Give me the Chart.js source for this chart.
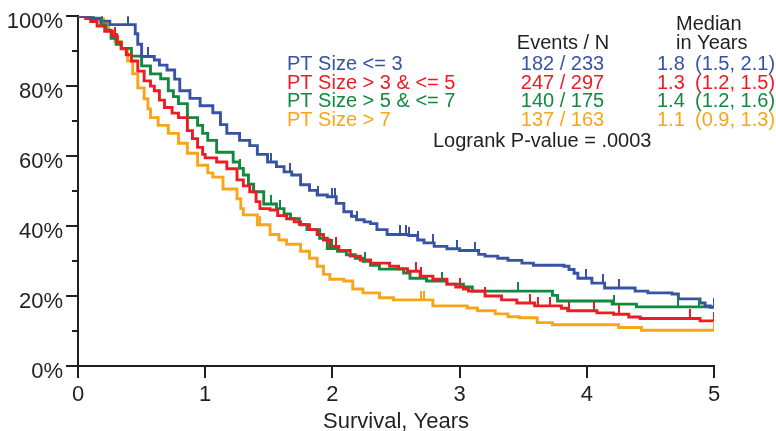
<!DOCTYPE html>
<html>
<head>
<meta charset="utf-8">
<script src="https://cdn.jsdelivr.net/npm/chart.js@4.4.1/dist/chart.umd.min.js"></script>
<style>
  html, body { margin: 0; padding: 0; background: #fff; }
  #wrap { width: 776px; height: 431px; }
</style>
</head>
<body>
<div id="wrap"><canvas id="km" width="776" height="431"></canvas></div>
<script>
// ---- data (years, survival %) ----
const groups = ['PT Size <= 3', 'PT Size > 3 & <= 5', 'PT Size > 5 & <= 7', 'PT Size > 7'];
const colors = ['#3953a4', '#ed1c24', '#108a3e', '#f9a51a'];
const eventsN = ['182 / 233', '247 / 297', '140 / 175', '137 / 163'];
const medians = ['1.8', '1.3', '1.4', '1.1'];
const medianCI = ['(1.5, 2.1)', '(1.2, 1.5)', '(1.2, 1.6)', '(0.9, 1.3)'];
const pValueText = 'Logrank P-value = .0003';

const le3Time = [0, 0.1, 0.18, 0.25, 0.45, 0.47, 0.5, 0.6, 0.64, 0.7, 0.76, 0.8, 0.88, 0.96, 1.06, 1.12, 1.17, 1.27, 1.35, 1.41, 1.49, 1.56, 1.62, 1.68, 1.75, 1.82, 1.88, 1.96, 2.03, 2.09, 2.15, 2.19, 2.25, 2.3, 2.35, 2.43, 2.6, 2.67, 2.72, 2.8, 2.9, 3.0, 3.15, 3.2, 3.3, 3.38, 3.49, 3.58, 3.82, 3.86, 3.9, 3.93, 4.04, 4.14, 4.38, 4.48, 4.67, 4.72, 4.89, 4.93, 4.97, 5.0];
const le3Surv = [100, 99.4, 98.6, 97.6, 95, 92, 88.5, 87.5, 86, 84.6, 82, 78.7, 76.5, 74.4, 72.4, 69, 66.5, 64.5, 63, 60.5, 58.3, 57, 55.5, 54.6, 51.8, 50.2, 48.9, 48.4, 46.5, 44.1, 42.8, 41.8, 41.2, 40.7, 39, 37.6, 37.3, 36, 35.2, 34.2, 33.5, 33, 31.9, 31.4, 30.8, 30.2, 29.4, 28.8, 28.5, 27.6, 26.5, 25.1, 23.7, 22.3, 21.4, 20.9, 20.6, 19.2, 18, 17.2, 16.8, 16.8];
const le3Cens = [0.39, 0.55, 0.88, 1.52, 1.67, 1.89, 2.0, 2.02, 2.19, 2.53, 2.58, 2.6, 2.67, 2.79, 2.98, 3.12, 3.99, 4.13, 4.25, 5.0];

const to5Time = [0, 0.06, 0.1, 0.15, 0.21, 0.27, 0.31, 0.34, 0.38, 0.42, 0.47, 0.52, 0.57, 0.6, 0.64, 0.68, 0.74, 0.79, 0.86, 0.9, 0.94, 0.98, 1.0, 1.09, 1.17, 1.25, 1.3, 1.35, 1.4, 1.43, 1.51, 1.57, 1.64, 1.7, 1.75, 1.82, 1.88, 1.93, 1.98, 2.05, 2.14, 2.22, 2.3, 2.45, 2.52, 2.59, 2.69, 2.79, 2.9, 2.97, 3.03, 3.07, 3.2, 3.33, 3.45, 3.59, 3.8, 3.85, 4.08, 4.21, 4.33, 4.42, 4.89, 5.0];
const to5Surv = [100, 99.3, 98.5, 97.2, 95.7, 94.2, 92.5, 90.8, 89, 87.2, 84.3, 81.5, 80, 78.7, 76, 73.9, 72.3, 71, 67.3, 65, 62.5, 60.5, 59.5, 58.3, 56.4, 53.2, 51.5, 49.8, 47, 45, 44.6, 43, 42.1, 41.2, 40.4, 39, 37.6, 36, 34.2, 33, 31.4, 30.3, 29.4, 28.5, 27.8, 27.1, 25.7, 24.8, 23.4, 22.6, 22, 21.4, 20, 18.9, 18, 17.2, 16.5, 15.8, 15.2, 14.8, 14, 13.6, 12.9, 12.9];
const to5Cens = [0.29, 0.31, 2.03, 2.66, 2.7, 3.0, 3.2, 3.55, 3.62, 3.71, 3.86, 4.06, 4.25, 4.81, 5.0];

const to7Time = [0, 0.12, 0.18, 0.22, 0.26, 0.3, 0.34, 0.42, 0.5, 0.57, 0.65, 0.71, 0.75, 0.79, 0.86, 0.94, 0.98, 1.02, 1.09, 1.22, 1.27, 1.3, 1.34, 1.38, 1.46, 1.56, 1.62, 1.67, 1.74, 1.8, 1.9, 1.96, 2.04, 2.11, 2.18, 2.24, 2.3, 2.37, 2.56, 2.61, 2.74, 2.9, 3.03, 3.1, 3.73, 3.77, 4.2, 4.39, 5.0];
const to7Surv = [100, 99.3, 97.6, 96, 93.7, 92, 90.8, 88.6, 85.8, 83.5, 82.1, 78.7, 77, 75, 71, 68.8, 66.5, 64.5, 61.1, 58.3, 56.5, 54.6, 52, 49.8, 46.3, 45, 43.5, 42.1, 40.5, 39, 36.5, 33.6, 32.8, 31.8, 30.8, 29.9, 28.8, 27.7, 26.6, 25.1, 24.3, 23.4, 22.6, 21.4, 20.2, 18.6, 17.7, 16.9, 16.9];
const to7Cens = [0.19, 1.27, 1.52, 1.59, 2.0, 2.26, 2.86, 3.46, 4.21, 4.72, 4.88, 5.0];

const gt7Time = [0, 0.12, 0.2, 0.24, 0.27, 0.29, 0.34, 0.39, 0.43, 0.47, 0.52, 0.55, 0.57, 0.63, 0.71, 0.79, 0.86, 0.94, 1.02, 1.06, 1.14, 1.25, 1.28, 1.3, 1.41, 1.51, 1.58, 1.64, 1.75, 1.82, 1.88, 1.93, 1.98, 2.09, 2.16, 2.24, 2.37, 2.48, 2.79, 3.06, 3.14, 3.28, 3.38, 3.47, 3.61, 3.73, 4.25, 4.43, 5.0];
const gt7Surv = [100, 99.3, 98, 95.7, 94, 92.8, 90.6, 87.2, 83.5, 79.5, 76.4, 73.5, 71, 68.8, 66.5, 63.7, 60.8, 57.4, 55.2, 54, 50.6, 47.8, 45, 43.2, 40.4, 37.6, 36, 34.8, 32.8, 30.8, 28.5, 26.2, 24.8, 24.3, 22, 20.9, 19.5, 18.9, 17.2, 16.6, 15.8, 14.9, 14.1, 13.8, 12.4, 11.8, 11, 10.2, 10.2];
const gt7Cens = [0.63, 1.43, 2.7, 2.72, 5.0];

const xTickValues = [0, 1, 2, 3, 4, 5];
const yMinorTicks = [10, 30, 50, 70, 90];

const times = [le3Time, to5Time, to7Time, gt7Time];
const survs = [le3Surv, to5Surv, to7Surv, gt7Surv];
const cens = [le3Cens, to5Cens, to7Cens, gt7Cens];

const INK = '#231f20';
const FONT = "'Liberation Sans', Arial, Helvetica, sans-serif";

// value of the step curve at time t
function stepAt(ts, ss, t) {
  let v = ss[0];
  for (let i = 0; i < ts.length; i++) { if (ts[i] <= t) v = ss[i]; }
  return v;
}

function tickMark(color) {
  const c = document.createElement('canvas');
  c.width = 2; c.height = 18;
  const g = c.getContext('2d');
  g.fillStyle = color;
  g.fillRect(0, 0, 2, 9);
  return c;
}

const datasets = [];
groups.forEach((name, i) => {
  datasets.push({
    label: name,
    data: times[i].map((t, k) => ({ x: t, y: survs[i][k] })),
    borderColor: colors[i],
    borderWidth: 2.9,
    stepped: true,
    pointRadius: 0,
    fill: false,
    order: 10 + i,
  });
});
groups.forEach((name, i) => {
  datasets.push({
    label: name + ' censored',
    data: cens[i].map(t => ({ x: t, y: stepAt(times[i], survs[i], t) })),
    showLine: false,
    pointStyle: tickMark(colors[i]),
    pointRadius: 4,
    order: i,
  });
});

const minorTicks = {
  id: 'minorTicks',
  afterDatasetsDraw(chart) {
    const y = chart.scales.y, ctx = chart.ctx, x0 = chart.chartArea.left;
    ctx.save();
    ctx.strokeStyle = INK; ctx.lineWidth = 2;
    yMinorTicks.forEach(v => {
      const py = Math.round(y.getPixelForValue(v));
      ctx.beginPath(); ctx.moveTo(x0 - 6, py); ctx.lineTo(x0, py); ctx.stroke();
    });
    ctx.restore();
  }
};

const annotations = {
  id: 'annotations',
  afterDraw(chart) {
    const ctx = chart.ctx;
    const rows = [70, 88.5, 107, 125.5];
    ctx.save();
    ctx.font = '20px ' + FONT;
    ctx.textBaseline = 'alphabetic';
    ctx.fillStyle = INK;
    ctx.textAlign = 'left';
    ctx.fillText('Median', 676, 30);
    ctx.fillText('in Years', 676, 49);
    ctx.textAlign = 'center';
    ctx.fillText('Events / N', 563, 49);
    ctx.textAlign = 'left';
    ctx.fillText(pValueText, 433, 147);
    groups.forEach((g, i) => {
      ctx.fillStyle = colors[i];
      ctx.textAlign = 'left';
      ctx.fillText(g, 287, rows[i]);
      ctx.textAlign = 'center';
      ctx.fillText(eventsN[i], 562.5, rows[i]);
      ctx.textAlign = 'left';
      ctx.fillText(medians[i], 657, rows[i]);
      ctx.fillText(medianCI[i], 695, rows[i]);
    });
    ctx.restore();
  }
};

new Chart(document.getElementById('km'), {
  type: 'line',
  data: { datasets },
  options: {
    responsive: false,
    animation: false,
    parsing: true,
    layout: { padding: { left: 0, top: 13, right: 62, bottom: 0 } },
    plugins: { legend: { display: false }, tooltip: { enabled: false } },
    scales: {
      x: {
        type: 'linear', min: 0, max: 5,
        afterFit: s => { s.height = 65; },
        afterBuildTicks: s => { s.ticks = xTickValues.map(v => ({ value: v })); },
        ticks: { color: INK, font: { family: FONT, size: 22 }, padding: 4 },
        grid: { display: true, drawOnChartArea: false, drawTicks: true, tickLength: 12, color: INK, lineWidth: 2 },
        border: { display: true, color: INK, width: 2 },
        title: { display: true, text: 'Survival, Years', color: INK, font: { family: FONT, size: 22 }, padding: { top: 0, bottom: -4 } },
      },
      y: {
        min: 0, max: 100,
        afterFit: s => { s.width = 78; },
        ticks: { stepSize: 20, color: INK, font: { family: FONT, size: 22 }, padding: 3, labelOffset: 6, callback: v => v + '%' },
        grid: { display: true, drawOnChartArea: false, drawTicks: true, tickLength: 12, color: INK, lineWidth: 2 },
        border: { display: true, color: INK, width: 2 },
      },
    },
  },
  plugins: [minorTicks, annotations],
});
</script>
</body>
</html>
